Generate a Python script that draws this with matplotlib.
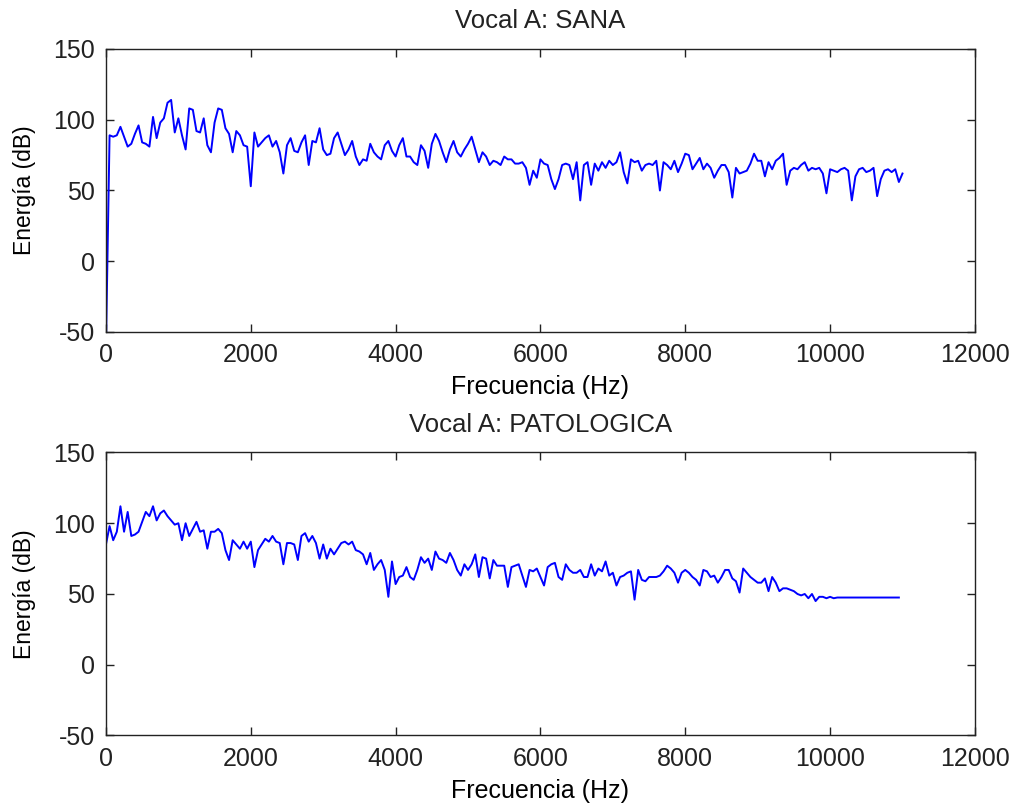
import numpy as np
import matplotlib
matplotlib.use('Agg')
from matplotlib import pyplot as plt

plt.rcParams['font.family'] = ['Liberation Sans', 'DejaVu Sans']
plt.rcParams['axes.unicode_minus'] = False
plt.rcParams['text.color'] = '#222222'

# Energy (dB), one value every 50 Hz
sana_step = 50
sana_db = [
    -60, 89, 88, 89, 95, 88, 81, 83, 90, 96, 84, 83, 81, 102, 87, 98, 101, 112, 114, 91,
    101, 89, 79, 108, 107, 92, 91, 101, 82, 77, 98, 108, 107, 94, 90, 77, 92, 89, 82, 81,
    53, 91, 81, 84, 87, 89, 81, 85, 77, 62, 82, 87, 78, 77, 84, 89, 68, 85, 84, 94,
    79, 75, 76, 87, 91, 83, 75, 79, 85, 74, 68, 72, 71, 83, 77, 74, 72, 82, 85, 78,
    74, 82, 87, 74, 74, 70, 68, 82, 78, 66, 83, 90, 85, 77, 70, 79, 85, 77, 74, 79,
    83, 88, 79, 70, 77, 74, 68, 71, 70, 68, 74, 72, 72, 69, 69, 70, 66, 54, 64, 59,
    72, 69, 68, 58, 51, 58, 68, 69, 68, 58, 70, 43, 68, 70, 54, 69, 64, 70, 66, 71,
    68, 70, 77, 63, 55, 72, 70, 71, 64, 68, 69, 68, 71, 50, 70, 68, 65, 71, 63, 69,
    76, 75, 65, 69, 73, 65, 69, 66, 59, 64, 68, 68, 63, 45, 66, 62, 63, 64, 69, 76,
    71, 71, 60, 70, 65, 71, 73, 76, 54, 64, 66, 65, 68, 70, 64, 66, 65, 66, 62, 48,
    65, 64, 63, 65, 66, 64, 43, 60, 65, 66, 63, 64, 66, 46, 58, 64, 65, 63, 65, 56,
    62,
]

pato_step = 50
pato_db = [
    85, 98, 88, 94, 112, 94, 108, 91, 92, 94, 101, 108, 105, 112, 102, 107, 109, 105, 102, 99,
    100, 88, 100, 91, 96, 101, 94, 95, 82, 94, 94, 96, 93, 81, 74, 88, 85, 82, 87, 82,
    87, 69, 81, 85, 89, 87, 91, 87, 86, 71, 86, 86, 85, 74, 91, 93, 87, 91, 86, 75,
    85, 75, 82, 78, 82, 86, 87, 85, 87, 81, 80, 78, 71, 79, 67, 71, 74, 67, 48, 73,
    57, 62, 63, 69, 62, 60, 67, 76, 72, 75, 67, 80, 75, 74, 72, 79, 74, 67, 63, 71,
    67, 71, 78, 62, 76, 75, 61, 74, 70, 70, 70, 55, 69, 70, 71, 63, 55, 67, 66, 68,
    62, 56, 69, 71, 72, 62, 60, 71, 67, 65, 65, 67, 62, 62, 71, 63, 68, 66, 73, 63,
    65, 56, 62, 63, 65, 66, 46, 67, 60, 59, 62, 62, 62, 63, 66, 70, 68, 65, 58, 65,
    67, 65, 62, 60, 56, 67, 66, 62, 63, 58, 62, 67, 67, 61, 59, 51, 68, 65, 62, 60,
    58, 58, 61, 52, 62, 58, 52, 54, 54, 53, 52, 50, 49, 50, 47, 50, 45, 48, 48, 47,
    48, 47, 47.5, 47.5, 47.5, 47.5, 47.5, 47.5, 47.5, 47.5,
    47.5, 47.5, 47.5, 47.5, 47.5, 47.5, 47.5, 47.5, 47.5, 47.5,
]

titles = ['Vocal A: SANA', 'Vocal A: PATOLOGICA']
xticks = [0, 2000, 4000, 6000, 8000, 10000, 12000]
yticks = [-50, 0, 50, 100, 150]

fig = plt.figure(figsize=(10.11, 8.07), dpi=100)
ax1 = fig.add_axes([0.1048, 0.5886, 0.8595, 0.3507])
ax2 = fig.add_axes([0.1048, 0.0886, 0.8595, 0.3507])

series = [(sana_db, sana_step), (pato_db, pato_step)]
for ax, (db, step), title in zip([ax1, ax2], series, titles):
    freq = np.arange(len(db)) * step
    ax.plot(freq, db, color='#0000ff', linewidth=1.4)
    ax.set_xlim(0, 12000)
    ax.set_ylim(-50, 150)
    ax.set_xticks(xticks)
    ax.set_yticks(yticks)
    ax.tick_params(direction='in', top=True, right=True, length=6, width=1,
                   labelsize=18, pad=8, colors='#222222')
    ax.set_title(title, fontsize=18.5, pad=15)
    ax.set_xlabel('Frecuencia (Hz)', fontsize=18, labelpad=6)
    ax.set_ylabel('Energía (dB)', fontsize=16.5, labelpad=12)
    for sp in ax.spines.values():
        sp.set_linewidth(1.0)
        sp.set_color('#222222')

fig.savefig('out.png', dpi=100)
